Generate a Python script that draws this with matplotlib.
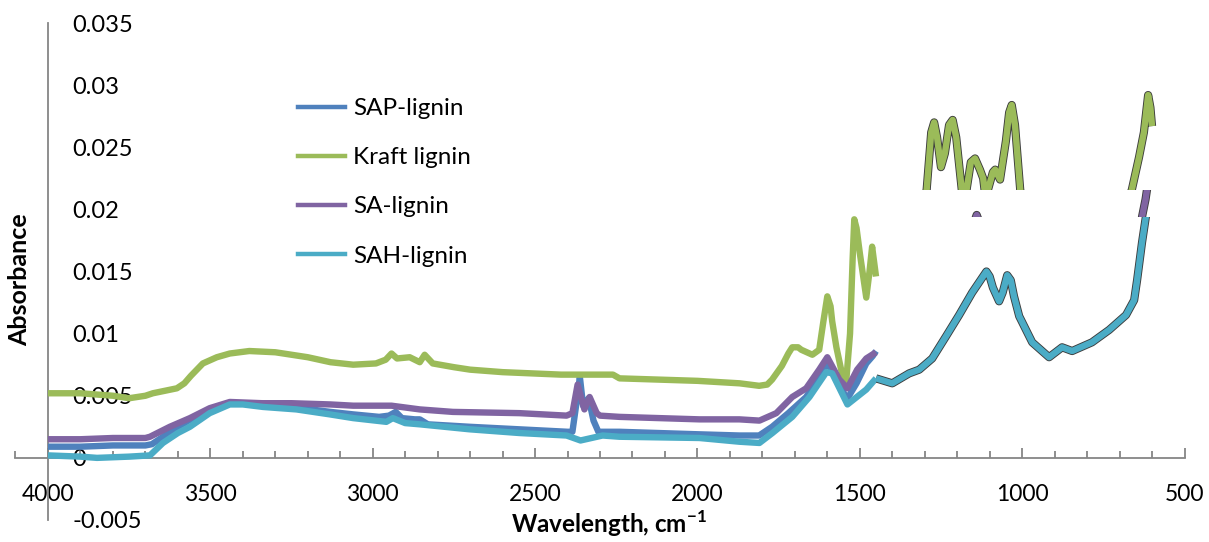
import numpy as np
import matplotlib
matplotlib.use("Agg")
import matplotlib.pyplot as plt
from matplotlib.patches import Rectangle
from matplotlib.ticker import MultipleLocator, FixedLocator, FixedFormatter
from matplotlib.lines import Line2D
import matplotlib.patheffects as pe

plt.rcParams['font.family'] = ['Lato', 'DejaVu Sans']
plt.rcParams['mathtext.fontset'] = 'custom'
plt.rcParams['mathtext.rm'] = 'Lato'
plt.rcParams['mathtext.bf'] = 'Lato:bold'

# ---------------- data ----------------
series_names = ["SAP-lignin", "Kraft lignin", "SA-lignin", "SAH-lignin"]
series_colors = ["#4F81BD", "#9BBB59", "#8064A2", "#4BACC6"]

sap_wn = [4000, 3900, 3800, 3700, 3680, 3640, 3600, 3560, 3500, 3440, 3400, 3340, 3250, 3130,
          3060, 2980, 2950, 2929, 2910, 2870, 2855, 2830, 2700, 2550, 2400, 2385, 2372, 2362,
          2352, 2335, 2320, 2305, 2240, 2000, 1870, 1810, 1770, 1720, 1665, 1630, 1600, 1570,
          1540, 1510, 1480, 1460, 1450]
sap_abs = [0.0009, 0.0009, 0.0010, 0.0010, 0.0011, 0.0018, 0.0025, 0.0031, 0.0039, 0.0044, 0.0044,
           0.0043, 0.0041, 0.0037, 0.0035, 0.0033, 0.0034, 0.0037, 0.0032, 0.0031, 0.0031, 0.0027,
           0.0025, 0.0023, 0.0021, 0.0021, 0.0045, 0.0065, 0.0042, 0.0048, 0.0030, 0.0021, 0.0021,
           0.0019, 0.0018, 0.0018, 0.0025, 0.0036, 0.0049, 0.0064, 0.0076, 0.0064, 0.0047, 0.0060,
           0.0076, 0.0082, 0.0086]

kraft_wn = [4000, 3900, 3800, 3750, 3700, 3677, 3640, 3603, 3580, 3560, 3523, 3480, 3440, 3380,
            3300, 3200, 3130, 3060, 2990, 2960, 2942, 2925, 2886, 2855, 2840, 2815, 2750, 2700,
            2600, 2420, 2260, 2240, 2000, 1870, 1810, 1785, 1770, 1740, 1720, 1708, 1690, 1680,
            1646, 1625, 1612, 1600, 1590, 1585, 1572, 1555, 1542, 1530, 1522, 1517, 1510, 1500,
            1480, 1470, 1462, 1450]
kraft_abs = [0.0052, 0.0052, 0.0050, 0.0048, 0.0050, 0.0052, 0.0054, 0.0056, 0.0060, 0.0066,
             0.0076, 0.0081, 0.0084, 0.0086, 0.0085, 0.0081, 0.0077, 0.0075, 0.0076, 0.0079,
             0.0084, 0.0080, 0.0081, 0.0077, 0.0083, 0.0076, 0.0073, 0.0071, 0.0069, 0.0067,
             0.0067, 0.0064, 0.0062, 0.0060, 0.0058, 0.0059, 0.0063, 0.0074, 0.0084, 0.0089,
             0.0089, 0.0087, 0.0083, 0.0087, 0.0110, 0.0130, 0.0122, 0.0110, 0.0089, 0.0068,
             0.0061, 0.0100, 0.0160, 0.0192, 0.0185, 0.0165, 0.0129, 0.0150, 0.0170, 0.0146]

sa_wn = [4000, 3900, 3800, 3700, 3686, 3625, 3563, 3502, 3440, 3340, 3250, 3130, 3060, 2942, 2855,
         2753, 2548, 2403, 2385, 2369, 2348, 2332, 2310, 2300, 2240, 1994, 1871, 1809, 1757, 1708,
         1665, 1625, 1600, 1563, 1538, 1508, 1480, 1450]
sa_abs = [0.0015, 0.0015, 0.0016, 0.0016, 0.0017, 0.0025, 0.0032, 0.0040, 0.0045, 0.0044, 0.0044,
          0.0043, 0.0042, 0.0042, 0.0039, 0.0037, 0.0036, 0.0034, 0.0036, 0.0059, 0.0039, 0.0049,
          0.0036, 0.0034, 0.0033, 0.0031, 0.0031, 0.0030, 0.0036, 0.0049, 0.0056, 0.0071, 0.0081,
          0.0063, 0.0056, 0.0071, 0.0080, 0.0085]

sah_wn = [4000, 3900, 3849, 3750, 3686, 3646, 3600, 3563, 3502, 3440, 3400, 3338, 3235, 3132, 3060,
          2958, 2938, 2900, 2855, 2702, 2548, 2403, 2360, 2292, 2240, 1994, 1871, 1809, 1769, 1708,
          1655, 1603, 1585, 1538, 1480, 1450, 1400, 1348, 1317, 1277, 1234, 1194, 1154, 1123, 1110,
          1100, 1090, 1071, 1060, 1046, 1035, 1025, 1009, 969, 917, 877, 846, 785, 732, 680, 655,
          646, 631, 619, 605, 600]
sah_abs = [0.0002, 0.0001, 0.0000, 0.0001, 0.0002, 0.0012, 0.0020, 0.0025, 0.0036, 0.0043, 0.0043,
           0.0041, 0.0039, 0.0035, 0.0032, 0.0029, 0.0032, 0.0028, 0.0027, 0.0023, 0.0020, 0.0018,
           0.0014, 0.0018, 0.0017, 0.0016, 0.0013, 0.0012, 0.0020, 0.0033, 0.0049, 0.0069, 0.0068,
           0.0043, 0.0055, 0.0064, 0.0060, 0.0068, 0.0071, 0.0080, 0.0098, 0.0115, 0.0133, 0.0145,
           0.0150, 0.0146, 0.0137, 0.0126, 0.0133, 0.0147, 0.0143, 0.0130, 0.0114, 0.0093, 0.0081,
           0.0089, 0.0086, 0.0093, 0.0103, 0.0115, 0.0127, 0.0143, 0.0173, 0.0194, 0.0210, 0.0215]

# fingerprint-region pieces (pasted region, x <= 1450)
kraft_fp_wn = [1450, 1400, 1350, 1310, 1294, 1280, 1271, 1262, 1250, 1238, 1225, 1214, 1203, 1186,
               1178, 1171, 1158, 1145, 1130, 1120, 1114, 1105, 1090, 1083, 1068, 1050, 1040, 1032,
               1022, 1006, 990, 950, 900, 800, 700, 662, 640, 625, 612, 605, 600]
kraft_fp_abs = [0.0146, 0.0152, 0.0165, 0.0195, 0.0216, 0.0262, 0.0270, 0.0258, 0.0234, 0.0245,
                0.0268, 0.0272, 0.0258, 0.0216, 0.0205, 0.0216, 0.0238, 0.0241, 0.0232, 0.0225,
                0.0212, 0.0216, 0.0230, 0.0232, 0.0224, 0.0255, 0.0278, 0.0284, 0.0268, 0.0216,
                0.0190, 0.0165, 0.0155, 0.0160, 0.0185, 0.0216, 0.0242, 0.0262, 0.0292, 0.0282,
                0.0267]
sa_fp_wn = [1450, 1400, 1300, 1200, 1160, 1140, 1125, 1100, 1071, 1046, 1000, 917, 800, 700, 660,
            640, 630, 620, 612, 600]
sa_fp_abs = [0.0085, 0.0088, 0.0100, 0.0150, 0.0180, 0.01955, 0.0185, 0.0170, 0.0150, 0.0170,
             0.0130, 0.0100, 0.0110, 0.0130, 0.0160, 0.0180, 0.0195, 0.0208, 0.0222, 0.0225]

x_ticks = [4000, 3500, 3000, 2500, 2000, 1500, 1000, 500]
x_tick_labels = ["4000", "3500", "3000", "2500", "2000", "1500", "1000", "500"]
y_ticks = [-0.005, 0, 0.005, 0.01, 0.015, 0.02, 0.025, 0.03, 0.035]
y_tick_labels = ["-0.005", "0", "0.005", "0.01", "0.015", "0.02", "0.025", "0.03", "0.035"]

# ---------------- figure ----------------
W, H = 1209, 542
fig = plt.figure(figsize=(W / 100, H / 100), dpi=100)
ax = fig.add_axes([15.5 / W, (H - 520) / H, (1184.5 - 15.5) / W, (520 - 23) / H])
ax.set_xlim(4100, 500)
ax.set_ylim(-0.005, 0.035)

LW = 4.6
gray = "#868686"
split = 1450

# main region lines
for wn, ab, c in [(sap_wn, sap_abs, series_colors[0]), (kraft_wn, kraft_abs, series_colors[1]),
                  (sa_wn, sa_abs, series_colors[2])]:
    ax.plot(wn, ab, color=c, lw=LW, solid_capstyle='butt', solid_joinstyle='round', zorder=3)
sah_wn_a = np.array(sah_wn)
sah_abs_a = np.array(sah_abs)
m_left = sah_wn_a >= split
ax.plot(sah_wn_a[m_left], sah_abs_a[m_left], color=series_colors[3], lw=LW,
        solid_capstyle='butt', solid_joinstyle='round', zorder=4)

# fingerprint region (outlined, layered bands)
outline = [pe.Stroke(linewidth=LW + 1.3, foreground="#3c3c3c"), pe.Normal()]
m_right = sah_wn_a <= split
y_teal_top = 0.01940
y_green_bot = 0.02155
bands = [
    (kraft_fp_wn, kraft_fp_abs, series_colors[1], y_green_bot, 0.04),
    (sa_fp_wn, sa_fp_abs, series_colors[2], y_teal_top, y_green_bot),
    (list(sah_wn_a[m_right]), list(sah_abs_a[m_right]), series_colors[3], -0.01, y_teal_top),
]
for wn, ab, c, y0, y1 in bands:
    l2, = ax.plot(wn, ab, color=c, lw=LW, solid_capstyle='butt', solid_joinstyle='round',
                  zorder=5, path_effects=outline)
    clip = Rectangle((split, y0), 500 - split - 200, y1 - y0, transform=ax.transData)
    l2.set_clip_path(clip)

# axes styling
for s in ["top", "right"]:
    ax.spines[s].set_visible(False)
ax.spines["left"].set_position(("data", 4000))
ax.spines["bottom"].set_position(("data", 0))
for s in ["left", "bottom"]:
    ax.spines[s].set_color(gray)
    ax.spines[s].set_linewidth(1.3)

ax.xaxis.set_major_locator(FixedLocator(x_ticks))
ax.xaxis.set_major_formatter(FixedFormatter(x_tick_labels))
ax.xaxis.set_minor_locator(MultipleLocator(100))
ax.tick_params(axis="x", which="major", direction="in", length=7, width=1.3, color=gray,
               labelsize=16.5, pad=19, labelcolor="black")
ax.tick_params(axis="x", which="minor", direction="in", length=5, width=1.3, color=gray)

ax.yaxis.set_major_locator(FixedLocator(y_ticks))
ax.yaxis.set_major_formatter(FixedFormatter(y_tick_labels))
ax.tick_params(axis="y", which="both", length=0, labelsize=17, pad=-17.5, labelcolor="black")
for lbl in ax.get_yticklabels():
    lbl.set_horizontalalignment("left")

# axis titles
fig.text(20 / W, 1 - 280 / H, "Absorbance", rotation=90, ha="center", va="center",
         fontsize=18, fontweight="bold")
fig.text(609 / W, 1 - 524 / H, r"Wavelength, cm$^{\mathbf{-1}}$", ha="center", va="center",
         fontsize=17.5, fontweight="bold")

# legend
handles = [Line2D([], [], color=c, lw=3.2) for c in series_colors]
leg = ax.legend(handles, series_names, loc="upper left", frameon=False,
                bbox_to_anchor=(298 / W, 1 - 98 / H), bbox_transform=fig.transFigure,
                borderaxespad=0, borderpad=0, fontsize=17.5, handlelength=1.95,
                handletextpad=0.33, labelspacing=1.16)

fig.savefig("out.png", dpi=100)
